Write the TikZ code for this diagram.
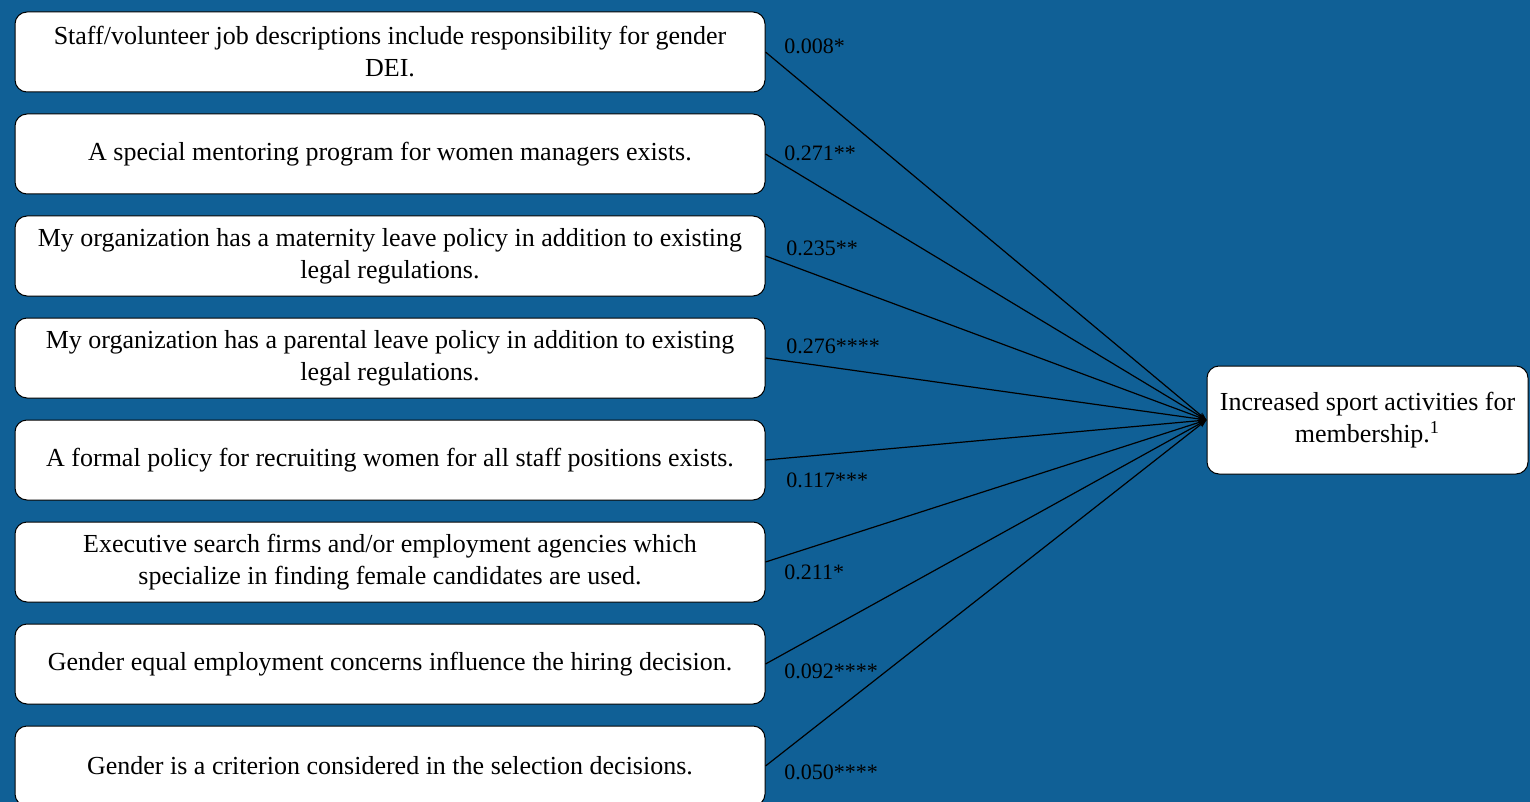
\documentclass[tikz,border=0pt]{standalone}
\usepackage{fontspec}
\setmainfont{Liberation Serif}
\usetikzlibrary{arrows.meta, positioning}
\definecolor{bgblue}{RGB}{16,96,150}

\begin{document}
\begin{tikzpicture}[x=0.5pt,y=-0.5pt,
    itembox/.style={draw=black, fill=white, rounded corners=6pt, line width=0.5pt,
        minimum width=375pt, minimum height=40pt, align=center, inner sep=0pt,
        font=\fontsize{13}{16}\selectfont},
    coef/.style={anchor=west, inner sep=0pt, font=\fontsize{11}{13}\selectfont},
    link/.style={-{Stealth[length=4pt,width=3pt]}, line width=0.6pt}]
    \fill[bgblue] (0,0) rectangle (1530,802); %背景
    \useasboundingbox (0,0) rectangle (1530,802);
    % 左の項目
    \node[itembox] (b1) at (390,52) {Staff/volunteer job descriptions include responsibility for gender\\DEI.};
    \node[itembox] (b2) at (390,154) {A special mentoring program for women managers exists.};
    \node[itembox] (b3) at (390,256) {My organization has a maternity leave policy in addition to existing\\legal regulations.};
    \node[itembox] (b4) at (390,358) {My organization has a parental leave policy in addition to existing\\legal regulations.};
    \node[itembox] (b5) at (390,460) {A formal policy for recruiting women for all staff positions exists.};
    \node[itembox] (b6) at (390,562) {Executive search firms and/or employment agencies which\\specialize in finding female candidates are used.};
    \node[itembox] (b7) at (390,664) {Gender equal employment concerns influence the hiring decision.};
    \node[itembox] (b8) at (390,766) {Gender is a criterion considered in the selection decisions.};
    % 右の項目
    \node[itembox, minimum width=160.5pt, minimum height=54pt] (out) at (1367.5,420)
        {Increased sport activities for\\membership.\textsuperscript{1}};
    % 矢印
    \foreach \i in {1,...,8}
        \draw[link] (b\i.east) -- (out.west);
    % 係数
    \node[coef] (c1) at (784,46) {0.008*};
    \node[coef] (c2) at (784,153) {0.271**};
    \node[coef] (c3) at (786,248) {0.235**};
    \node[coef] (c4) at (786,346) {0.276****};
    \node[coef] (c5) at (786,480) {0.117***};
    \node[coef] (c6) at (784,572) {0.211*};
    \node[coef] (c7) at (784,671) {0.092****};
    \node[coef] (c8) at (784,772) {0.050****};
\end{tikzpicture}
\end{document}
